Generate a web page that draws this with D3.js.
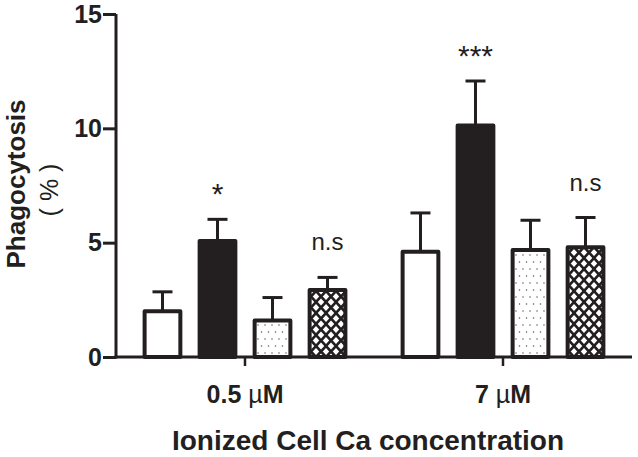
<!DOCTYPE html>
<html>
<head>
<meta charset="utf-8">
<script src="https://cdn.jsdelivr.net/npm/d3@7"></script>
<style>
  html, body { margin: 0; padding: 0; background: #fff; }
  svg { display: block; }
  text { font-family: "Liberation Sans", Arial, sans-serif; fill: #231f20; }
</style>
</head>
<body>
<svg id="chart" width="638" height="457"></svg>
<script>
// ---- data ----
const groups = ["0.5 \u00b5M", "7 \u00b5M"];
const groupNumbers = ["0.5 ", "7 "];
const series = ["control", "black", "dots", "cross"];
const means05 = [2.0, 5.07, 1.6, 2.93];
const means7 = [4.6, 10.12, 4.68, 4.8];
const sem05 = [0.85, 0.95, 1.0, 0.55];
const sem7 = [1.7, 1.95, 1.3, 1.3];
const sig05 = ["", "*", "", "n.s"];
const sig7 = ["", "***", "", "n.s"];
const yTicks = [0, 5, 10, 15];
const yTitle = "Phagocytosis";
const yTitle2 = "( % )";
const xTitle = "Ionized Cell Ca concentration";

const means = [means05, means7];
const sems = [sem05, sem7];
const sigs = [sig05, sig7];

const svg = d3.select("#chart");
const ink = "#231f20";

// patterns
const defs = svg.append("defs");
const dots = defs.append("pattern").attr("id", "dots")
  .attr("patternUnits", "userSpaceOnUse").attr("width", 7).attr("height", 14);
dots.append("rect").attr("width", 7).attr("height", 14).attr("fill", "#fff");
dots.append("circle").attr("cx", 2).attr("cy", 3).attr("r", 0.75).attr("fill", "#555");
dots.append("circle").attr("cx", 5.5).attr("cy", 10).attr("r", 0.75).attr("fill", "#555");

const cross = defs.append("pattern").attr("id", "cross")
  .attr("patternUnits", "userSpaceOnUse").attr("width", 10).attr("height", 11)
  .attr("x", 0).attr("y", 357);
cross.append("rect").attr("width", 10).attr("height", 11).attr("fill", "#fff");
cross.append("path").attr("d", "M-1,-1.1 L11,12.1 M11,-1.1 L-1,12.1")
  .attr("stroke", ink).attr("stroke-width", 2.6).attr("fill", "none");

const fills = ["#fff", ink, "url(#dots)", "url(#cross)"];

// scales
const y = d3.scaleLinear().domain([0, 15]).range([357, 14]);
const x0 = d3.scaleBand().domain(groups).range([116, 632]).padding(0);
const x1 = d3.scaleBand().domain(series).range([0, x0.bandwidth()])
  .paddingInner(0.35).paddingOuter(0.52);

// bars
groups.forEach((g, gi) => {
  const gEl = svg.append("g").attr("transform", `translate(${x0(g)},0)`);
  series.forEach((s, si) => {
    const v = means[gi][si], e = sems[gi][si];
    const cx = x1(s) + x1.bandwidth() / 2;
    // error bar
    gEl.append("line").attr("x1", cx).attr("x2", cx)
      .attr("y1", y(v)).attr("y2", y(v + e))
      .attr("stroke", ink).attr("stroke-width", 3);
    gEl.append("line").attr("x1", cx - 10).attr("x2", cx + 10)
      .attr("y1", y(v + e)).attr("y2", y(v + e))
      .attr("stroke", ink).attr("stroke-width", 3);
    gEl.append("rect")
      .attr("x", x1(s)).attr("width", x1.bandwidth())
      .attr("y", y(v)).attr("height", y(0) - y(v))
      .attr("fill", fills[si]).attr("stroke", ink).attr("stroke-width", 4)
      .attr("stroke-linejoin", "round");
    const lab = sigs[gi][si];
    if (lab) {
      const isStar = lab.indexOf("*") >= 0;
      gEl.append("text")
        .attr("x", cx)
        .attr("y", isStar ? y(v + e) - 15 : y(v + e) - 27)
        .attr("text-anchor", "middle")
        .style("font-size", isStar ? "30px" : "24px")
        .text(lab);
    }
  });
});

// y axis
const yAxis = d3.axisLeft(y).tickValues(yTicks).tickSize(13).tickPadding(1);
const ya = svg.append("g").attr("transform", "translate(116,0)").call(yAxis);
ya.select(".domain").attr("stroke", ink).attr("stroke-width", 3)
  .attr("d", `M0,${y(15)}V${y(0)+1.5}`);
ya.selectAll(".tick line").attr("stroke", ink).attr("stroke-width", 3);
ya.selectAll(".tick text").attr("fill", ink)
  .style("font-size", "25px").style("font-weight", "bold")
  .style("font-family", "'Liberation Sans', Arial, sans-serif");

// x axis
const xAxis = d3.axisBottom(x0).tickSize(9).tickFormat("");
const xa = svg.append("g").attr("transform", `translate(0,${y(0)})`).call(xAxis);
xa.select(".domain").attr("stroke", ink).attr("stroke-width", 3)
  .attr("d", `M114.5,0H632`);
xa.selectAll(".tick line").attr("stroke", ink).attr("stroke-width", 2.5);

// x tick labels with mu in regular weight
groups.forEach((g, gi) => {
  const t = svg.append("text")
    .attr("x", x0(g) + x0.bandwidth() / 2).attr("y", 403)
    .attr("text-anchor", "middle").style("font-size", "25px");
  t.append("tspan").style("font-weight", "bold").text(groupNumbers[gi]);
  t.append("tspan").style("font-weight", "normal").text("\u00b5");
  t.append("tspan").style("font-weight", "bold").text("M");
});

// axis titles
svg.append("text")
  .attr("transform", "translate(25,184) rotate(-90)")
  .attr("text-anchor", "middle")
  .style("font-size", "26px").style("font-weight", "bold")
  .text(yTitle);
svg.append("text")
  .attr("transform", "translate(58,190) rotate(-90)")
  .attr("text-anchor", "middle")
  .style("font-size", "25px")
  .text(yTitle2);

svg.append("text")
  .attr("x", 368).attr("y", 450)
  .attr("text-anchor", "middle")
  .style("font-size", "28px").style("font-weight", "bold")
  .text(xTitle);
</script>
</body>
</html>
